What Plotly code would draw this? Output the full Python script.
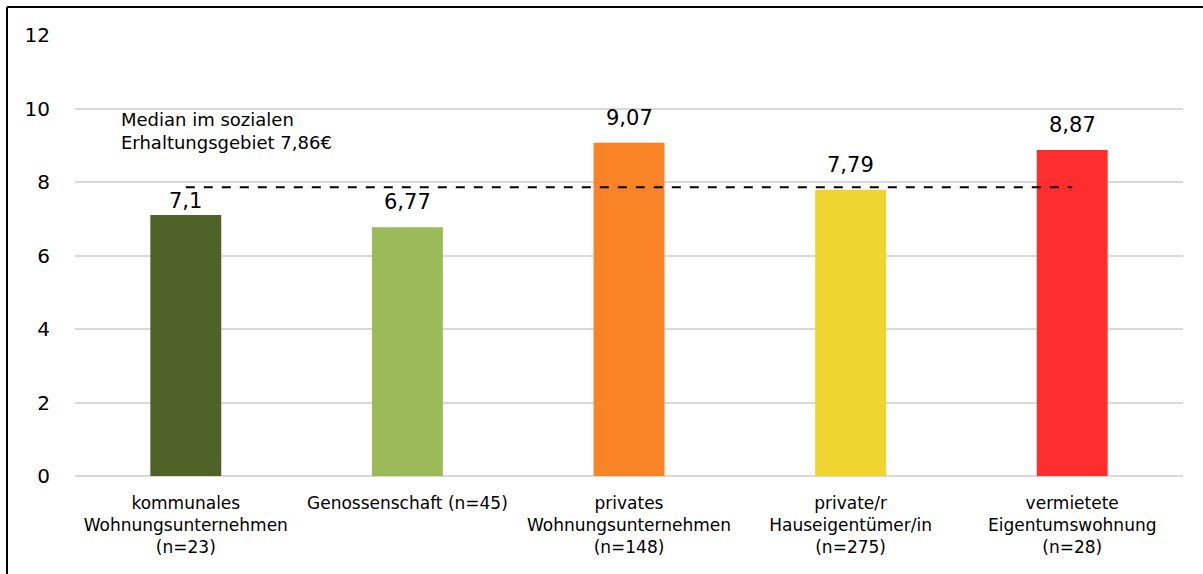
import plotly.graph_objects as go

categories = [
    "kommunales<br>Wohnungsunternehmen<br>(n=23)",
    "Genossenschaft (n=45)",
    "privates<br>Wohnungsunternehmen<br>(n=148)",
    "private/r<br>Hauseigentümer/in<br>(n=275)",
    "vermietete<br>Eigentumswohnung<br>(n=28)",
]
values = [7.1, 6.77, 9.07, 7.79, 8.87]
value_labels = ["7,1", "6,77", "9,07", "7,79", "8,87"]
colors = ["#4F6228", "#9BBB59", "#F98426", "#EFD52F", "#FF2E2E"]
median_value = 7.86
median_label = "Median im sozialen<br>Erhaltungsgebiet 7,86€"
y_ticks = [0, 2, 4, 6, 8, 10, 12]

# pixel offsets of value labels above bar tops (first label sits lower)
label_shift = [14, 25, 25, 25, 25]

FONT = "DejaVu Sans, sans-serif"

fig = go.Figure()
fig.add_trace(go.Bar(
    x=categories,
    y=values,
    marker=dict(color=colors, line=dict(width=0)),
    width=0.32,
    hoverinfo="skip",
))

for cat, v, lab, sh in zip(categories, values, value_labels, label_shift):
    fig.add_annotation(x=cat, y=v, text=lab, showarrow=False,
                       xanchor="center", yanchor="middle", yshift=sh,
                       font=dict(size=21, color="black", family=FONT))

# median dashed line from first to last category centre
fig.add_shape(type="line", xref="x", yref="y",
              x0=0, x1=4, y0=median_value, y1=median_value,
              line=dict(color="black", width=2, dash="dash"))

fig.add_annotation(text=median_label, xref="x", yref="y",
                   x=-0.3, y=10.05, xanchor="left", yanchor="top",
                   align="left", showarrow=False,
                   font=dict(size=18, color="black", family=FONT))

# frame lines (top and left) of the cropped picture
L, T, W, H = 75, 35, 1108, 441
def px(xp):
    return (xp - L) / W
def py(yp):
    return (T + H - yp) / H
fig.add_shape(type="line", xref="paper", yref="paper",
              x0=px(7), x1=px(1210), y0=py(7), y1=py(7),
              line=dict(color="black", width=2))
fig.add_shape(type="line", xref="paper", yref="paper",
              x0=px(7), x1=px(7), y0=py(7), y1=py(580),
              line=dict(color="black", width=2))

fig.update_layout(
    width=1203, height=574,
    margin=dict(l=L, r=1203 - L - W, t=T, b=574 - T - H),
    plot_bgcolor="white", paper_bgcolor="white",
    showlegend=False,
    font=dict(family=FONT, color="black"),
    bargap=0.68,
)
fig.update_yaxes(range=[0, 12], tickvals=y_ticks,
                 showgrid=True, gridcolor="#D9D9D9", gridwidth=2,
                 zeroline=True, zerolinecolor="#D9D9D9", zerolinewidth=2,
                 tickfont=dict(size=20, color="black"),
                 ticklabelstandoff=24, showline=False)
fig.update_xaxes(tickfont=dict(size=17, color="black"),
                 showline=False, ticks="", ticklabelstandoff=15)

fig.write_html("out.html", config={"displayModeBar": False},
               post_script="document.body.style.margin='0';")
